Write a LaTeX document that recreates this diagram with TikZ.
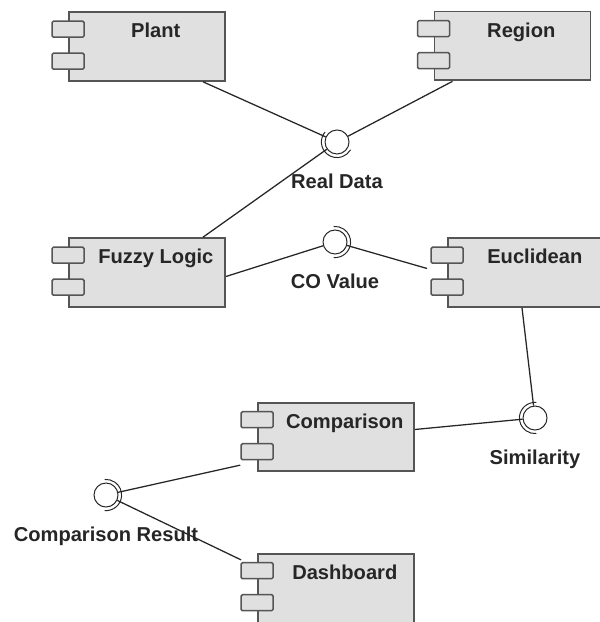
\documentclass[tikz,border=0pt]{standalone}
\usepackage{fontspec}
\setmainfont{Liberation Sans}
\usetikzlibrary{positioning}

\definecolor{compfill}{HTML}{E0E0E0}
\definecolor{compline}{HTML}{555555}

\tikzset{
	lbl/.style={font=\bfseries\fontsize{14.3}{17}\selectfont, text=black!85, inner sep=0pt},
	comp/.style={rectangle, draw=compline, line width=1.3pt, fill=compfill,
		minimum width=3.9cm, minimum height=1.72cm, inner sep=0pt,
		label={[lbl,anchor=base,xshift=0.22cm,yshift=-0.67cm]north:#1}},
	pin/.style={draw=compline, line width=1.1pt, fill=compfill, rounded corners=1pt},
	iface/.style={circle, draw=black!85, line width=0.7pt, fill=white,
		minimum size=0.6cm, inner sep=0pt,
		label={[lbl,anchor=base,yshift=-0.85cm]south:#1}},
	sock/.style={draw=black!85, line width=0.7pt},
	conn/.style={draw=black!85, line width=0.9pt}
}

\begin{document}
\begin{tikzpicture}[x=0.025cm,y=-0.025cm]
	\useasboundingbox (0,0) rectangle (599,622);
	% components
	\node[comp=Plant] (plant) at (147,46.5) {};
	\node[comp=Region] (region) at (512.5,46) {};
	\node[comp=Fuzzy Logic] (fuzzy) at (147,272.5) {};
	\node[comp=Euclidean] (euclid) at (526,272.5) {};
	\node[comp=Comparison] (comp) at (336,437) {};
	\node[comp=Dashboard] (dash) at (336,588) {};
	\foreach \n in {plant,region,fuzzy,euclid,comp,dash}{
		\draw[pin] ([xshift=-0.4cm,yshift=-0.25cm]\n.north west) rectangle ([xshift=0.4cm,yshift=-0.65cm]\n.north west);
		\draw[pin] ([xshift=-0.4cm,yshift=-1.05cm]\n.north west) rectangle ([xshift=0.4cm,yshift=-1.45cm]\n.north west);
	}
	% interfaces
	\node[iface=Real Data] (real) at (337,142) {};
	\node[iface=CO Value] (co) at (335,242) {};
	\node[iface=Similarity] (sim) at (535,418) {};
	\node[iface=Comparison Result] (cres) at (106,495) {};
	\foreach \n/\a in {real/235,co/0,sim/180,cres/0}
		\draw[sock] ([shift={(\a-95:0.39cm)}]\n.center) arc[start angle=\a-95, end angle=\a+95, radius=0.39cm];
	% connectors
	\draw[conn] ([xshift=1.4cm]plant.south) -- (real);
	\draw[conn] ([xshift=-1.5cm]region.south) -- (real);
	\draw[conn] ([xshift=1.4cm]fuzzy.north) -- (real);
	\draw[conn] ([yshift=-0.1cm]fuzzy.east) -- (co);
	\draw[conn] (co) -- ([xshift=-0.5cm,yshift=0.1cm]euclid.west);
	\draw[conn] ([xshift=-0.1cm]euclid.south) -- (sim);
	\draw[conn] (comp) -- (sim);
	\draw[conn] (cres) -- ([xshift=-0.42cm,yshift=0.18cm]comp.south west);
	\draw[conn] (cres) -- ([xshift=-0.4cm,yshift=-0.18cm]dash.north west);
\end{tikzpicture}
\end{document}
